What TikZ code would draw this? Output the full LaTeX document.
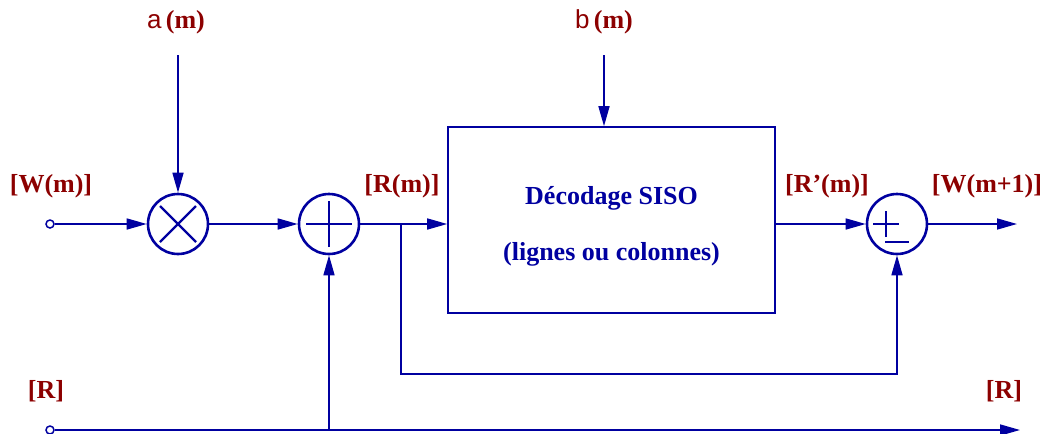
\documentclass[tikz,border=0pt]{standalone}
\usepackage{fontspec}
\setmainfont{Liberation Serif}
\newfontfamily\lettre{Liberation Sans}
\usetikzlibrary{arrows.meta, positioning}
\definecolor{ligne}{RGB}{0,0,160}
\definecolor{rouge}{RGB}{140,0,0}

\begin{document}
\begin{tikzpicture}[
    x=0.5pt, y=-0.5pt,
    fleche/.style={-{Triangle[length=10pt, width=5.5pt]}, draw=ligne, line width=0.8pt},
    op/.style={circle, draw=ligne, line width=1.3pt, minimum size=30pt, inner sep=0pt},
    mult/.style={op, path picture={\draw[ligne, line width=1.2pt] (path picture bounding box.center) +(-9pt,-9pt) -- +(9pt,9pt) +(-9pt,9pt) -- +(9pt,-9pt);}},
    somme/.style={op, path picture={\draw[ligne, line width=1.2pt] (path picture bounding box.center) +(-11.5pt,0) -- +(11.5pt,0) +(0,-11.5pt) -- +(0,11.5pt);}},
    diff/.style={op, path picture={\draw[ligne, line width=1.2pt] (path picture bounding box.center) +(-12pt,0) -- +(1pt,0) +(-5.5pt,-6.5pt) -- +(-5.5pt,6.5pt) +(-6pt,-9pt) -- +(6pt,-9pt);}},
    port/.style={circle, draw=ligne, line width=0.75pt, fill=white, minimum size=4pt, inner sep=0pt},
    bloc/.style={rectangle, draw=ligne, line width=0.8pt, minimum width=163.5pt, minimum height=93pt},
    titre/.style={align=center, text=ligne, font=\bfseries\fontsize{13}{28}\selectfont},
    lbl/.style={text=rouge, font=\bfseries\fontsize{13}{15}\selectfont, inner sep=0pt}
]
\useasboundingbox (0,0) rectangle (1056,434);

% operateurs
\node[port] (win) at (50,224) {};
\node[mult] (mul) at (178,224) {};
\node[somme] (add) at (329,224) {};
\node[bloc] (siso) at (611.5,220) {};
\node[titre] (txt) at (611.5,226) {D\'ecodage SISO\\(lignes ou colonnes)};
\node[diff] (sub) at (897,224) {};
\node[port] (rin) at (50,430) {};

\coordinate (ta) at (178,55);
\coordinate (tb) at (604,55);
\coordinate (split) at (401,224);
\coordinate (coin) at (401,374);
\coordinate (wout) at (1017,224);
\coordinate (rout) at (1020,430);

% etiquettes
\node[lbl] (la) at (176,22) {{\lettre\mdseries a}\,(m)};
\node[lbl] (lb) at (604,22) {{\lettre\mdseries b}\,(m)};
\node[lbl] (lw) at (51,186) {[W(m)]};
\node[lbl] (lr) at (402,186) {[R(m)]};
\node[lbl] (lrp) at (827,186) {[R’(m)]};
\node[lbl] (lw1) at (987,186) {[W(m+1)]};
\node[lbl] (lri) at (46,391) {[R]};
\node[lbl] (lro) at (1004,391) {[R]};

% liaisons
\draw[fleche] (win) -- (mul);
\draw[fleche] (ta) -- (mul);
\draw[fleche] (mul) -- (add);
\draw[fleche] (add) -- (add -| siso.west);
\draw[fleche] (tb) -- (tb |- siso.north);
\draw[fleche] (siso.east |- sub) -- (sub);
\draw[fleche] (sub) -- (wout);
\draw[fleche] (split) -- (coin) -| (sub);
\draw[fleche] (rin) -- (rout);
\draw[fleche] (add |- rin) -- (add);
\end{tikzpicture}
\end{document}
